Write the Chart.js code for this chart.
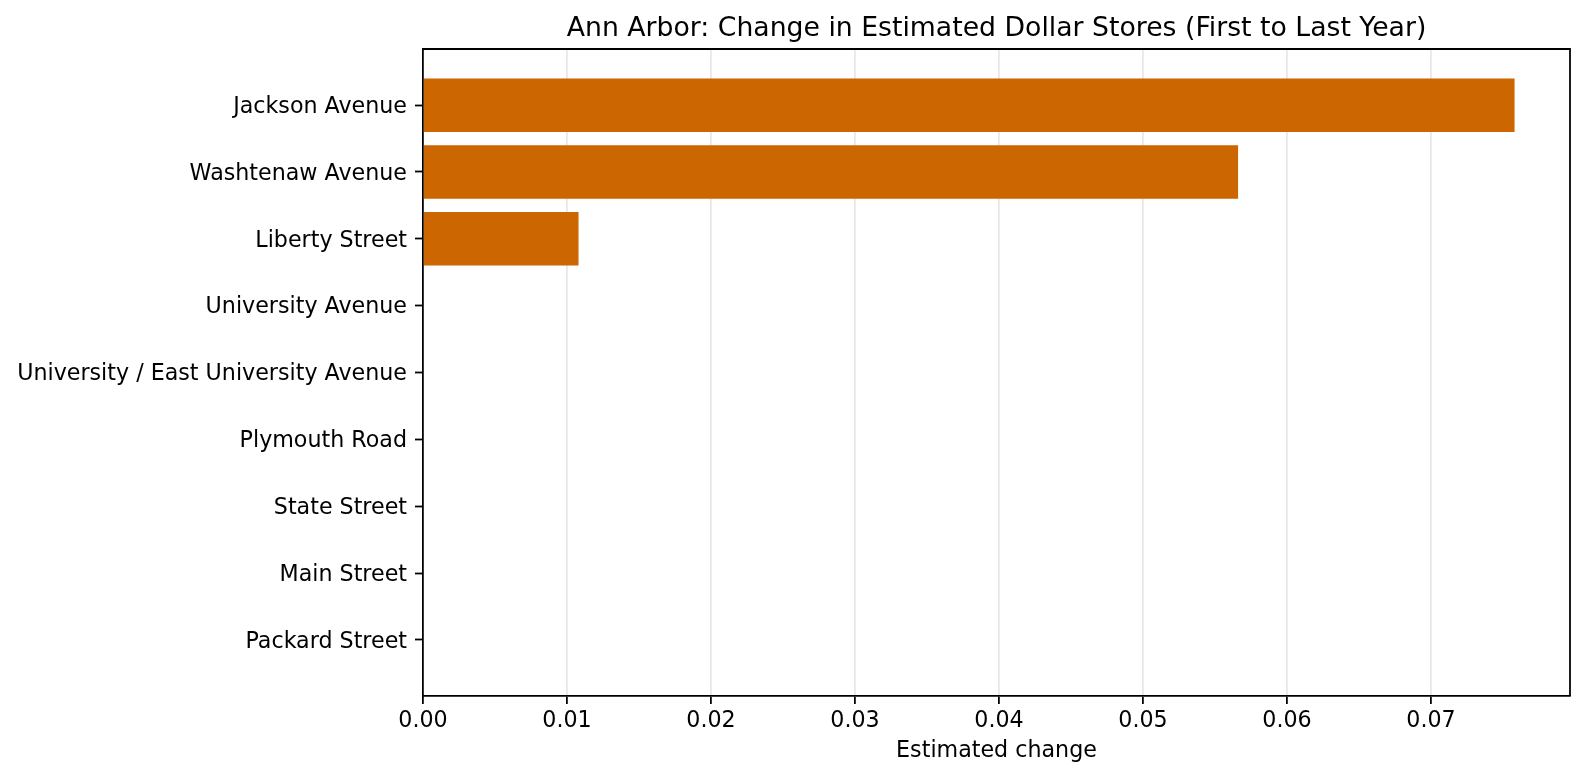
<!DOCTYPE html>
<html>
<head>
<meta charset="utf-8">
<title>Ann Arbor dollar stores</title>
<script src="https://cdn.jsdelivr.net/npm/chart.js@4.4.1/dist/chart.umd.min.js"></script>
<style>
  html, body { margin: 0; padding: 0; background: #fff; }
  #wrap { width: 1585px; height: 776px; position: relative; }
</style>
</head>
<body>
<div id="wrap"><canvas id="chart"></canvas></div>
<script>
// data
const streets = [
    'Jackson Avenue',
    'Washtenaw Avenue',
    'Liberty Street',
    'University Avenue',
    'University / East University Avenue',
    'Plymouth Road',
    'State Street',
    'Main Street',
    'Packard Street'
];
const change = [0.0758, 0.0566, 0.0108, 0, 0, 0, 0, 0, 0];
const xTicks = [0, 0.01, 0.02, 0.03, 0.04, 0.05, 0.06, 0.07];

const chartTitle = 'Ann Arbor: Change in Estimated Dollar Stores (First to Last Year)';
const xTitle = 'Estimated change';

const FONT = "'DejaVu Sans', sans-serif";
const barColor = '#cc6600';
const lw = 1.78;

// top/right spines and the title centred over the plot area (matplotlib style)
const framePlugin = {
    id: 'frame',
    afterDraw(chart) {
        const { ctx, chartArea: a } = chart;
        ctx.save();
        ctx.strokeStyle = '#000';
        ctx.lineWidth = lw;
        ctx.beginPath();
        ctx.moveTo(a.left, a.top);
        ctx.lineTo(a.right, a.top);
        ctx.lineTo(a.right, a.bottom);
        ctx.stroke();

        ctx.fillStyle = '#000';
        ctx.font = `26.7px ${FONT}`;
        ctx.textAlign = 'center';
        ctx.textBaseline = 'alphabetic';
        ctx.fillText(chartTitle, (a.left + a.right) / 2, 36);
        ctx.restore();
    }
};

new Chart(document.getElementById('chart'), {
    type: 'bar',
    data: {
        datasets: [{
            data: change.map((v, i) => ({ x: v, y: i })),
            backgroundColor: barColor,
            borderWidth: 0,
            categoryPercentage: 1.0,
            barPercentage: 0.8
        }]
    },
    options: {
        indexAxis: 'y',
        responsive: true,
        maintainAspectRatio: false,
        animation: false,
        layout: { padding: { top: 49, right: 15, left: 0, bottom: 0 } },
        plugins: {
            legend: { display: false },
            title: { display: false },
            tooltip: { enabled: false }
        },
        scales: {
            x: {
                type: 'linear',
                position: 'bottom',
                min: 0,
                max: 0.07965,
                z: 1,
                afterBuildTicks: (axis) => { axis.ticks = xTicks.map(v => ({ value: v })); },
                afterFit: (axis) => { axis.height = 80; },
                ticks: {
                    color: '#000',
                    font: { family: FONT, size: 22.2 },
                    padding: 4,
                    maxRotation: 0,
                    callback: (v) => Number(v).toFixed(2)
                },
                grid: {
                    color: (c) => c.tick && c.tick.value === 0 ? 'rgba(0,0,0,0)' : 'rgba(176,176,176,0.3)',
                    lineWidth: lw,
                    tickColor: '#000',
                    tickWidth: lw,
                    tickLength: 8
                },
                border: { color: '#000', width: lw },
                title: {
                    display: true,
                    text: xTitle,
                    color: '#000',
                    font: { family: FONT, size: 22.2 },
                    padding: { top: 0, bottom: 11 }
                }
            },
            y: {
                type: 'linear',
                position: 'left',
                min: -0.84,
                max: 8.84,
                reverse: true,
                offset: false,
                afterBuildTicks: (axis) => { axis.ticks = streets.map((_, i) => ({ value: i })); },
                afterFit: (axis) => { axis.width = 423; },
                ticks: {
                    color: '#000',
                    font: { family: FONT, size: 22.2 },
                    padding: 8,
                    labelOffset: 2,
                    callback: (v) => streets[v]
                },
                grid: {
                    offset: false,
                    drawOnChartArea: false,
                    tickColor: '#000',
                    tickWidth: lw,
                    tickLength: 8
                },
                border: { color: '#000', width: lw }
            }
        }
    },
    plugins: [framePlugin]
});
</script>
</body>
</html>
